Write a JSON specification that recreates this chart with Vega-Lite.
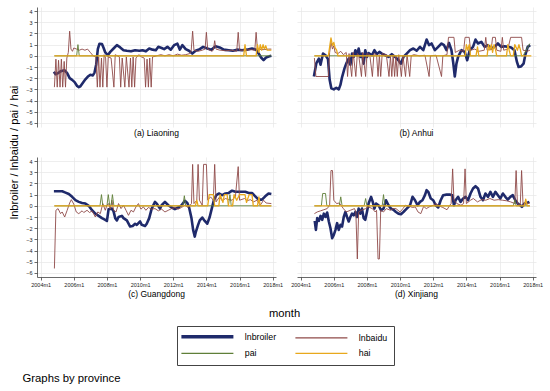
{
"$schema": "https://vega.github.io/schema/vega-lite/v6.json",
"padding": {"left": 8, "top": 7, "right": 5, "bottom": 5},
"background": "white",
"data": {"values": [
{"p":"L","s":"b","t":2004.8,"v":-1.42},{"p":"L","s":"b","t":2004.9,"v":-1.65},{"p":"L","s":"b","t":2005.05,"v":-1.55},{"p":"L","s":"b","t":2005.25,"v":-1.35},{"p":"L","s":"b","t":2005.45,"v":-1.3},{"p":"L","s":"b","t":2005.6,"v":-1.55},{"p":"L","s":"b","t":2005.75,"v":-2.0},{"p":"L","s":"b","t":2005.9,"v":-2.15},{"p":"L","s":"b","t":2006.05,"v":-2.35},{"p":"L","s":"b","t":2006.2,"v":-2.7},{"p":"L","s":"b","t":2006.3,"v":-2.8},{"p":"L","s":"b","t":2006.4,"v":-2.72},{"p":"L","s":"b","t":2006.55,"v":-2.4},{"p":"L","s":"b","t":2006.7,"v":-2.1},{"p":"L","s":"b","t":2006.85,"v":-1.85},{"p":"L","s":"b","t":2007.0,"v":-1.7},{"p":"L","s":"b","t":2007.15,"v":-1.75},{"p":"L","s":"b","t":2007.25,"v":-1.5},{"p":"L","s":"b","t":2007.35,"v":-0.8},{"p":"L","s":"b","t":2007.45,"v":0.6},{"p":"L","s":"b","t":2007.55,"v":1.08},{"p":"L","s":"b","t":2007.7,"v":1.05},{"p":"L","s":"b","t":2007.8,"v":0.7},{"p":"L","s":"b","t":2007.9,"v":0.3},{"p":"L","s":"b","t":2008.05,"v":0.05},{"p":"L","s":"b","t":2008.2,"v":0.35},{"p":"L","s":"b","t":2008.4,"v":0.65},{"p":"L","s":"b","t":2008.6,"v":0.95},{"p":"L","s":"b","t":2008.8,"v":0.75},{"p":"L","s":"b","t":2009.0,"v":0.5},{"p":"L","s":"b","t":2009.2,"v":0.45},{"p":"L","s":"b","t":2009.45,"v":0.4},{"p":"L","s":"b","t":2009.7,"v":0.5},{"p":"L","s":"b","t":2009.95,"v":0.45},{"p":"L","s":"b","t":2010.15,"v":0.5},{"p":"L","s":"b","t":2010.35,"v":0.4},{"p":"L","s":"b","t":2010.55,"v":0.65},{"p":"L","s":"b","t":2010.75,"v":0.55},{"p":"L","s":"b","t":2010.95,"v":0.5},{"p":"L","s":"b","t":2011.1,"v":0.8},{"p":"L","s":"b","t":2011.3,"v":0.7},{"p":"L","s":"b","t":2011.45,"v":0.6},{"p":"L","s":"b","t":2011.65,"v":0.8},{"p":"L","s":"b","t":2011.85,"v":0.55},{"p":"L","s":"b","t":2012.05,"v":0.95},{"p":"L","s":"b","t":2012.25,"v":1.08},{"p":"L","s":"b","t":2012.4,"v":0.55},{"p":"L","s":"b","t":2012.55,"v":0.95},{"p":"L","s":"b","t":2012.75,"v":0.6},{"p":"L","s":"b","t":2012.95,"v":0.45},{"p":"L","s":"b","t":2013.15,"v":0.2},{"p":"L","s":"b","t":2013.35,"v":0.45},{"p":"L","s":"b","t":2013.6,"v":0.6},{"p":"L","s":"b","t":2013.8,"v":0.8},{"p":"L","s":"b","t":2014.05,"v":0.65},{"p":"L","s":"b","t":2014.3,"v":0.55},{"p":"L","s":"b","t":2014.55,"v":0.85},{"p":"L","s":"b","t":2014.8,"v":0.75},{"p":"L","s":"b","t":2015.05,"v":0.55},{"p":"L","s":"b","t":2015.35,"v":0.5},{"p":"L","s":"b","t":2015.6,"v":0.45},{"p":"L","s":"b","t":2015.85,"v":0.55},{"p":"L","s":"b","t":2016.15,"v":0.5},{"p":"L","s":"b","t":2016.45,"v":0.55},{"p":"L","s":"b","t":2016.75,"v":0.65},{"p":"L","s":"b","t":2017.0,"v":0.55},{"p":"L","s":"b","t":2017.15,"v":0.2},{"p":"L","s":"b","t":2017.3,"v":-0.15},{"p":"L","s":"b","t":2017.45,"v":-0.38},{"p":"L","s":"b","t":2017.6,"v":-0.15},{"p":"L","s":"b","t":2017.8,"v":-0.05},{"p":"L","s":"b","t":2017.92,"v":0.0},
{"p":"L","s":"u","t":2004.83,"v":-2.8},{"p":"L","s":"u","t":2004.92,"v":-0.3},{"p":"L","s":"u","t":2005.0,"v":-2.8},{"p":"L","s":"u","t":2005.08,"v":-0.4},{"p":"L","s":"u","t":2005.17,"v":-2.8},{"p":"L","s":"u","t":2005.25,"v":-0.3},{"p":"L","s":"u","t":2005.33,"v":-2.8},{"p":"L","s":"u","t":2005.42,"v":-0.5},{"p":"L","s":"u","t":2005.5,"v":-2.8},{"p":"L","s":"u","t":2005.58,"v":-0.2},{"p":"L","s":"u","t":2005.67,"v":0.3},{"p":"L","s":"u","t":2005.75,"v":2.2},{"p":"L","s":"u","t":2005.83,"v":0.6},{"p":"L","s":"u","t":2005.92,"v":0.4},{"p":"L","s":"u","t":2006.0,"v":0.7},{"p":"L","s":"u","t":2006.17,"v":0.6},{"p":"L","s":"u","t":2006.33,"v":0.5},{"p":"L","s":"u","t":2006.5,"v":0.6},{"p":"L","s":"u","t":2006.67,"v":0.5},{"p":"L","s":"u","t":2006.83,"v":0.6},{"p":"L","s":"u","t":2007.0,"v":0.3},{"p":"L","s":"u","t":2007.17,"v":0.0},{"p":"L","s":"u","t":2007.33,"v":-0.1},{"p":"L","s":"u","t":2007.42,"v":-2.8},{"p":"L","s":"u","t":2007.5,"v":-0.1},{"p":"L","s":"u","t":2007.58,"v":-2.8},{"p":"L","s":"u","t":2007.67,"v":-0.2},{"p":"L","s":"u","t":2007.75,"v":-2.8},{"p":"L","s":"u","t":2007.83,"v":0.1},{"p":"L","s":"u","t":2007.92,"v":-0.2},{"p":"L","s":"u","t":2008.0,"v":-2.8},{"p":"L","s":"u","t":2008.08,"v":-0.1},{"p":"L","s":"u","t":2008.25,"v":-0.2},{"p":"L","s":"u","t":2008.42,"v":-2.8},{"p":"L","s":"u","t":2008.5,"v":0.1},{"p":"L","s":"u","t":2008.75,"v":-0.1},{"p":"L","s":"u","t":2008.83,"v":-2.8},{"p":"L","s":"u","t":2008.92,"v":-0.2},{"p":"L","s":"u","t":2009.08,"v":-2.8},{"p":"L","s":"u","t":2009.17,"v":-0.1},{"p":"L","s":"u","t":2009.33,"v":-2.8},{"p":"L","s":"u","t":2009.42,"v":-0.2},{"p":"L","s":"u","t":2009.5,"v":-2.8},{"p":"L","s":"u","t":2009.58,"v":-0.1},{"p":"L","s":"u","t":2009.67,"v":-2.8},{"p":"L","s":"u","t":2009.75,"v":-0.2},{"p":"L","s":"u","t":2009.92,"v":0.1},{"p":"L","s":"u","t":2010.08,"v":-0.1},{"p":"L","s":"u","t":2010.25,"v":-0.2},{"p":"L","s":"u","t":2010.33,"v":-2.8},{"p":"L","s":"u","t":2010.42,"v":-0.3},{"p":"L","s":"u","t":2010.5,"v":-2.8},{"p":"L","s":"u","t":2010.58,"v":-0.2},{"p":"L","s":"u","t":2010.67,"v":-2.8},{"p":"L","s":"u","t":2010.75,"v":-0.1},{"p":"L","s":"u","t":2011.0,"v":0.0},{"p":"L","s":"u","t":2011.25,"v":0.1},{"p":"L","s":"u","t":2011.5,"v":0.0},{"p":"L","s":"u","t":2011.75,"v":0.1},{"p":"L","s":"u","t":2012.0,"v":0.0},{"p":"L","s":"u","t":2012.25,"v":0.15},{"p":"L","s":"u","t":2012.5,"v":0.05},{"p":"L","s":"u","t":2012.75,"v":0.1},{"p":"L","s":"u","t":2013.0,"v":0.2},{"p":"L","s":"u","t":2013.08,"v":0.4},{"p":"L","s":"u","t":2013.17,"v":2.2},{"p":"L","s":"u","t":2013.25,"v":0.5},{"p":"L","s":"u","t":2013.5,"v":0.4},{"p":"L","s":"u","t":2013.75,"v":0.5},{"p":"L","s":"u","t":2013.92,"v":0.6},{"p":"L","s":"u","t":2014.0,"v":2.1},{"p":"L","s":"u","t":2014.08,"v":0.6},{"p":"L","s":"u","t":2014.33,"v":0.4},{"p":"L","s":"u","t":2014.42,"v":0.5},{"p":"L","s":"u","t":2014.5,"v":1.35},{"p":"L","s":"u","t":2014.58,"v":0.6},{"p":"L","s":"u","t":2014.83,"v":0.5},{"p":"L","s":"u","t":2015.17,"v":0.45},{"p":"L","s":"u","t":2015.5,"v":0.5},{"p":"L","s":"u","t":2015.83,"v":0.4},{"p":"L","s":"u","t":2015.92,"v":2.1},{"p":"L","s":"u","t":2016.0,"v":0.5},{"p":"L","s":"u","t":2016.33,"v":0.5},{"p":"L","s":"u","t":2016.67,"v":0.55},{"p":"L","s":"u","t":2016.92,"v":0.5},{"p":"L","s":"u","t":2017.0,"v":2.1},{"p":"L","s":"u","t":2017.08,"v":0.6},{"p":"L","s":"u","t":2017.42,"v":0.55},{"p":"L","s":"u","t":2017.75,"v":0.6},{"p":"L","s":"u","t":2017.92,"v":0.6},
{"p":"L","s":"p","t":2004.83,"v":0},{"p":"L","s":"p","t":2006.17,"v":0},{"p":"L","s":"p","t":2006.25,"v":1.0},{"p":"L","s":"p","t":2006.33,"v":0},{"p":"L","s":"p","t":2017.92,"v":0},
{"p":"L","s":"h","t":2004.83,"v":0},{"p":"L","s":"h","t":2016.25,"v":0},{"p":"L","s":"h","t":2016.33,"v":1.0},{"p":"L","s":"h","t":2016.42,"v":0},{"p":"L","s":"h","t":2017.0,"v":0},{"p":"L","s":"h","t":2017.08,"v":1.0},{"p":"L","s":"h","t":2017.17,"v":0.3},{"p":"L","s":"h","t":2017.25,"v":1.0},{"p":"L","s":"h","t":2017.33,"v":0.5},{"p":"L","s":"h","t":2017.42,"v":1.0},{"p":"L","s":"h","t":2017.5,"v":0.6},{"p":"L","s":"h","t":2017.58,"v":0.9},{"p":"L","s":"h","t":2017.67,"v":0.5},{"p":"L","s":"h","t":2017.92,"v":0.5},
{"p":"A","s":"b","t":2004.8,"v":-1.85},{"p":"A","s":"b","t":2004.95,"v":-0.65},{"p":"A","s":"b","t":2005.1,"v":-0.25},{"p":"A","s":"b","t":2005.2,"v":-0.8},{"p":"A","s":"b","t":2005.35,"v":0.2},{"p":"A","s":"b","t":2005.5,"v":0.05},{"p":"A","s":"b","t":2005.65,"v":-0.3},{"p":"A","s":"b","t":2005.75,"v":-2.15},{"p":"A","s":"b","t":2005.85,"v":-2.9},{"p":"A","s":"b","t":2006.0,"v":-3.0},{"p":"A","s":"b","t":2006.15,"v":-2.85},{"p":"A","s":"b","t":2006.3,"v":-3.0},{"p":"A","s":"b","t":2006.4,"v":-2.6},{"p":"A","s":"b","t":2006.5,"v":-1.9},{"p":"A","s":"b","t":2006.65,"v":-1.1},{"p":"A","s":"b","t":2006.75,"v":-0.7},{"p":"A","s":"b","t":2006.9,"v":-0.25},{"p":"A","s":"b","t":2007.0,"v":-0.8},{"p":"A","s":"b","t":2007.1,"v":0.2},{"p":"A","s":"b","t":2007.2,"v":-0.1},{"p":"A","s":"b","t":2007.3,"v":0.5},{"p":"A","s":"b","t":2007.4,"v":0.05},{"p":"A","s":"b","t":2007.5,"v":0.65},{"p":"A","s":"b","t":2007.6,"v":-0.1},{"p":"A","s":"b","t":2007.7,"v":0.2},{"p":"A","s":"b","t":2007.8,"v":-0.7},{"p":"A","s":"b","t":2007.9,"v":0.5},{"p":"A","s":"b","t":2008.0,"v":-0.1},{"p":"A","s":"b","t":2008.1,"v":0.25},{"p":"A","s":"b","t":2008.3,"v":0.05},{"p":"A","s":"b","t":2008.45,"v":0.5},{"p":"A","s":"b","t":2008.6,"v":0.15},{"p":"A","s":"b","t":2008.75,"v":0.35},{"p":"A","s":"b","t":2008.9,"v":0.2},{"p":"A","s":"b","t":2009.1,"v":0.05},{"p":"A","s":"b","t":2009.3,"v":-0.1},{"p":"A","s":"b","t":2009.5,"v":0.15},{"p":"A","s":"b","t":2009.7,"v":-0.1},{"p":"A","s":"b","t":2009.9,"v":-0.4},{"p":"A","s":"b","t":2010.05,"v":-0.7},{"p":"A","s":"b","t":2010.2,"v":-0.1},{"p":"A","s":"b","t":2010.4,"v":0.2},{"p":"A","s":"b","t":2010.6,"v":0.5},{"p":"A","s":"b","t":2010.8,"v":0.65},{"p":"A","s":"b","t":2011.0,"v":0.45},{"p":"A","s":"b","t":2011.2,"v":0.8},{"p":"A","s":"b","t":2011.4,"v":0.5},{"p":"A","s":"b","t":2011.6,"v":1.45},{"p":"A","s":"b","t":2011.75,"v":0.95},{"p":"A","s":"b","t":2011.9,"v":1.1},{"p":"A","s":"b","t":2012.1,"v":0.5},{"p":"A","s":"b","t":2012.3,"v":0.8},{"p":"A","s":"b","t":2012.5,"v":1.1},{"p":"A","s":"b","t":2012.65,"v":0.95},{"p":"A","s":"b","t":2012.8,"v":0.5},{"p":"A","s":"b","t":2012.95,"v":1.15},{"p":"A","s":"b","t":2013.1,"v":0.5},{"p":"A","s":"b","t":2013.2,"v":-0.55},{"p":"A","s":"b","t":2013.3,"v":-1.85},{"p":"A","s":"b","t":2013.4,"v":-0.7},{"p":"A","s":"b","t":2013.5,"v":-0.1},{"p":"A","s":"b","t":2013.7,"v":0.5},{"p":"A","s":"b","t":2013.9,"v":0.35},{"p":"A","s":"b","t":2014.05,"v":-0.4},{"p":"A","s":"b","t":2014.2,"v":0.5},{"p":"A","s":"b","t":2014.4,"v":0.8},{"p":"A","s":"b","t":2014.55,"v":1.45},{"p":"A","s":"b","t":2014.7,"v":1.1},{"p":"A","s":"b","t":2014.9,"v":1.25},{"p":"A","s":"b","t":2015.1,"v":0.8},{"p":"A","s":"b","t":2015.3,"v":0.95},{"p":"A","s":"b","t":2015.5,"v":0.65},{"p":"A","s":"b","t":2015.7,"v":0.8},{"p":"A","s":"b","t":2015.9,"v":1.1},{"p":"A","s":"b","t":2016.1,"v":0.8},{"p":"A","s":"b","t":2016.3,"v":0.85},{"p":"A","s":"b","t":2016.5,"v":0.8},{"p":"A","s":"b","t":2016.7,"v":0.75},{"p":"A","s":"b","t":2016.9,"v":0.5},{"p":"A","s":"b","t":2017.05,"v":-0.55},{"p":"A","s":"b","t":2017.15,"v":-1.0},{"p":"A","s":"b","t":2017.3,"v":-0.95},{"p":"A","s":"b","t":2017.45,"v":-0.7},{"p":"A","s":"b","t":2017.55,"v":0.05},{"p":"A","s":"b","t":2017.7,"v":0.8},{"p":"A","s":"b","t":2017.85,"v":0.95},
{"p":"A","s":"u","t":2004.83,"v":-0.2},{"p":"A","s":"u","t":2004.92,"v":-1.85},{"p":"A","s":"u","t":2005.67,"v":-1.85},{"p":"A","s":"u","t":2005.75,"v":0.3},{"p":"A","s":"u","t":2005.83,"v":1.2},{"p":"A","s":"u","t":2005.92,"v":0.6},{"p":"A","s":"u","t":2006.0,"v":0.9},{"p":"A","s":"u","t":2006.08,"v":0.3},{"p":"A","s":"u","t":2006.25,"v":0.2},{"p":"A","s":"u","t":2006.42,"v":0.4},{"p":"A","s":"u","t":2006.58,"v":0.1},{"p":"A","s":"u","t":2006.75,"v":0.3},{"p":"A","s":"u","t":2006.83,"v":-1.85},{"p":"A","s":"u","t":2006.92,"v":0.2},{"p":"A","s":"u","t":2007.08,"v":-1.85},{"p":"A","s":"u","t":2007.17,"v":0.3},{"p":"A","s":"u","t":2007.33,"v":-1.85},{"p":"A","s":"u","t":2007.42,"v":0.2},{"p":"A","s":"u","t":2007.5,"v":0.1},{"p":"A","s":"u","t":2007.67,"v":-1.85},{"p":"A","s":"u","t":2007.75,"v":0.3},{"p":"A","s":"u","t":2007.92,"v":-1.85},{"p":"A","s":"u","t":2008.0,"v":0.2},{"p":"A","s":"u","t":2008.17,"v":0.1},{"p":"A","s":"u","t":2008.33,"v":-1.85},{"p":"A","s":"u","t":2008.42,"v":0.2},{"p":"A","s":"u","t":2008.58,"v":0.1},{"p":"A","s":"u","t":2008.67,"v":-1.85},{"p":"A","s":"u","t":2008.75,"v":0.1},{"p":"A","s":"u","t":2008.83,"v":-1.85},{"p":"A","s":"u","t":2008.92,"v":0.2},{"p":"A","s":"u","t":2009.17,"v":0.1},{"p":"A","s":"u","t":2009.33,"v":-1.85},{"p":"A","s":"u","t":2009.42,"v":0.0},{"p":"A","s":"u","t":2009.5,"v":-1.85},{"p":"A","s":"u","t":2009.58,"v":0.1},{"p":"A","s":"u","t":2009.67,"v":-1.85},{"p":"A","s":"u","t":2009.75,"v":0.0},{"p":"A","s":"u","t":2009.83,"v":-1.85},{"p":"A","s":"u","t":2009.92,"v":0.1},{"p":"A","s":"u","t":2010.08,"v":-1.85},{"p":"A","s":"u","t":2010.17,"v":0.0},{"p":"A","s":"u","t":2010.33,"v":-1.85},{"p":"A","s":"u","t":2010.42,"v":0.1},{"p":"A","s":"u","t":2010.58,"v":-1.85},{"p":"A","s":"u","t":2010.67,"v":0.0},{"p":"A","s":"u","t":2010.83,"v":0.1},{"p":"A","s":"u","t":2011.17,"v":0.0},{"p":"A","s":"u","t":2011.5,"v":0.05},{"p":"A","s":"u","t":2011.75,"v":-1.85},{"p":"A","s":"u","t":2011.83,"v":0.0},{"p":"A","s":"u","t":2012.17,"v":0.05},{"p":"A","s":"u","t":2012.5,"v":-1.85},{"p":"A","s":"u","t":2012.58,"v":0.0},{"p":"A","s":"u","t":2012.83,"v":0.1},{"p":"A","s":"u","t":2012.92,"v":1.65},{"p":"A","s":"u","t":2013.25,"v":1.65},{"p":"A","s":"u","t":2013.33,"v":0.3},{"p":"A","s":"u","t":2013.58,"v":0.5},{"p":"A","s":"u","t":2013.83,"v":0.4},{"p":"A","s":"u","t":2013.92,"v":1.65},{"p":"A","s":"u","t":2014.17,"v":1.65},{"p":"A","s":"u","t":2014.25,"v":0.5},{"p":"A","s":"u","t":2014.5,"v":0.6},{"p":"A","s":"u","t":2014.75,"v":0.4},{"p":"A","s":"u","t":2015.08,"v":0.5},{"p":"A","s":"u","t":2015.17,"v":1.65},{"p":"A","s":"u","t":2015.25,"v":0.5},{"p":"A","s":"u","t":2015.5,"v":0.6},{"p":"A","s":"u","t":2015.58,"v":1.65},{"p":"A","s":"u","t":2015.75,"v":1.65},{"p":"A","s":"u","t":2015.83,"v":0.5},{"p":"A","s":"u","t":2016.08,"v":0.4},{"p":"A","s":"u","t":2016.17,"v":1.65},{"p":"A","s":"u","t":2016.25,"v":0.5},{"p":"A","s":"u","t":2016.5,"v":0.6},{"p":"A","s":"u","t":2016.67,"v":1.65},{"p":"A","s":"u","t":2017.33,"v":1.65},{"p":"A","s":"u","t":2017.42,"v":0.5},{"p":"A","s":"u","t":2017.67,"v":0.4},{"p":"A","s":"u","t":2017.83,"v":0.5},
{"p":"A","s":"p","t":2004.83,"v":0},{"p":"A","s":"p","t":2017.42,"v":0},{"p":"A","s":"p","t":2017.83,"v":1.1},
{"p":"A","s":"h","t":2004.83,"v":0},{"p":"A","s":"h","t":2005.67,"v":0},{"p":"A","s":"h","t":2005.75,"v":0.8},{"p":"A","s":"h","t":2005.83,"v":1.6},{"p":"A","s":"h","t":2005.92,"v":0.9},{"p":"A","s":"h","t":2006.0,"v":1.2},{"p":"A","s":"h","t":2006.08,"v":0.7},{"p":"A","s":"h","t":2006.17,"v":0.5},{"p":"A","s":"h","t":2006.25,"v":0},{"p":"A","s":"h","t":2013.92,"v":0},{"p":"A","s":"h","t":2014.0,"v":1.0},{"p":"A","s":"h","t":2014.08,"v":0.5},{"p":"A","s":"h","t":2014.17,"v":1.0},{"p":"A","s":"h","t":2014.25,"v":0},{"p":"A","s":"h","t":2014.58,"v":0},{"p":"A","s":"h","t":2014.67,"v":0.8},{"p":"A","s":"h","t":2014.75,"v":0},{"p":"A","s":"h","t":2015.25,"v":0},{"p":"A","s":"h","t":2015.33,"v":1.0},{"p":"A","s":"h","t":2015.42,"v":0.5},{"p":"A","s":"h","t":2015.5,"v":1.0},{"p":"A","s":"h","t":2015.58,"v":0.3},{"p":"A","s":"h","t":2015.67,"v":1.0},{"p":"A","s":"h","t":2015.75,"v":0.6},{"p":"A","s":"h","t":2015.83,"v":0},{"p":"A","s":"h","t":2016.42,"v":0},{"p":"A","s":"h","t":2016.5,"v":1.0},{"p":"A","s":"h","t":2016.58,"v":0.5},{"p":"A","s":"h","t":2016.67,"v":0},{"p":"A","s":"h","t":2016.83,"v":0},{"p":"A","s":"h","t":2016.92,"v":1.0},{"p":"A","s":"h","t":2017.08,"v":0.5},{"p":"A","s":"h","t":2017.17,"v":1.0},{"p":"A","s":"h","t":2017.25,"v":0.6},{"p":"A","s":"h","t":2017.33,"v":0},{"p":"A","s":"h","t":2017.92,"v":0},
{"p":"G","s":"b","t":2004.8,"v":1.3},{"p":"G","s":"b","t":2005.0,"v":1.3},{"p":"G","s":"b","t":2005.3,"v":1.3},{"p":"G","s":"b","t":2005.5,"v":1.18},{"p":"G","s":"b","t":2005.7,"v":1.05},{"p":"G","s":"b","t":2005.9,"v":0.8},{"p":"G","s":"b","t":2006.1,"v":0.5},{"p":"G","s":"b","t":2006.3,"v":0.35},{"p":"G","s":"b","t":2006.5,"v":0.25},{"p":"G","s":"b","t":2006.7,"v":0.2},{"p":"G","s":"b","t":2006.9,"v":0.0},{"p":"G","s":"b","t":2007.1,"v":-0.4},{"p":"G","s":"b","t":2007.3,"v":-0.7},{"p":"G","s":"b","t":2007.5,"v":-0.9},{"p":"G","s":"b","t":2007.7,"v":-1.1},{"p":"G","s":"b","t":2007.9,"v":-1.25},{"p":"G","s":"b","t":2008.0,"v":-1.35},{"p":"G","s":"b","t":2008.1,"v":-0.3},{"p":"G","s":"b","t":2008.3,"v":-0.25},{"p":"G","s":"b","t":2008.4,"v":-0.5},{"p":"G","s":"b","t":2008.5,"v":-1.1},{"p":"G","s":"b","t":2008.6,"v":-1.3},{"p":"G","s":"b","t":2008.7,"v":-1.0},{"p":"G","s":"b","t":2008.9,"v":-0.9},{"p":"G","s":"b","t":2009.0,"v":-1.1},{"p":"G","s":"b","t":2009.2,"v":-1.3},{"p":"G","s":"b","t":2009.4,"v":-1.85},{"p":"G","s":"b","t":2009.55,"v":-1.8},{"p":"G","s":"b","t":2009.7,"v":-1.6},{"p":"G","s":"b","t":2009.8,"v":-1.7},{"p":"G","s":"b","t":2010.0,"v":-1.4},{"p":"G","s":"b","t":2010.1,"v":-1.7},{"p":"G","s":"b","t":2010.3,"v":-1.8},{"p":"G","s":"b","t":2010.4,"v":-1.6},{"p":"G","s":"b","t":2010.55,"v":-1.1},{"p":"G","s":"b","t":2010.7,"v":-0.25},{"p":"G","s":"b","t":2010.9,"v":0.35},{"p":"G","s":"b","t":2011.0,"v":0.2},{"p":"G","s":"b","t":2011.2,"v":-0.25},{"p":"G","s":"b","t":2011.3,"v":0.05},{"p":"G","s":"b","t":2011.5,"v":0.35},{"p":"G","s":"b","t":2011.7,"v":0.05},{"p":"G","s":"b","t":2011.9,"v":-0.15},{"p":"G","s":"b","t":2012.1,"v":-0.3},{"p":"G","s":"b","t":2012.3,"v":-0.15},{"p":"G","s":"b","t":2012.5,"v":0.05},{"p":"G","s":"b","t":2012.7,"v":0.45},{"p":"G","s":"b","t":2012.85,"v":0.25},{"p":"G","s":"b","t":2012.95,"v":-0.1},{"p":"G","s":"b","t":2013.1,"v":-1.1},{"p":"G","s":"b","t":2013.2,"v":-2.15},{"p":"G","s":"b","t":2013.3,"v":-2.75},{"p":"G","s":"b","t":2013.35,"v":-2.4},{"p":"G","s":"b","t":2013.5,"v":-1.7},{"p":"G","s":"b","t":2013.6,"v":-1.3},{"p":"G","s":"b","t":2013.75,"v":-1.05},{"p":"G","s":"b","t":2013.9,"v":-1.35},{"p":"G","s":"b","t":2014.05,"v":-1.6},{"p":"G","s":"b","t":2014.2,"v":-1.0},{"p":"G","s":"b","t":2014.35,"v":-0.1},{"p":"G","s":"b","t":2014.45,"v":0.5},{"p":"G","s":"b","t":2014.6,"v":0.95},{"p":"G","s":"b","t":2014.75,"v":1.1},{"p":"G","s":"b","t":2014.95,"v":0.95},{"p":"G","s":"b","t":2015.15,"v":1.1},{"p":"G","s":"b","t":2015.35,"v":1.15},{"p":"G","s":"b","t":2015.55,"v":1.35},{"p":"G","s":"b","t":2015.75,"v":1.25},{"p":"G","s":"b","t":2016.05,"v":1.25},{"p":"G","s":"b","t":2016.35,"v":1.25},{"p":"G","s":"b","t":2016.55,"v":1.15},{"p":"G","s":"b","t":2016.75,"v":1.15},{"p":"G","s":"b","t":2016.95,"v":0.85},{"p":"G","s":"b","t":2017.15,"v":0.55},{"p":"G","s":"b","t":2017.35,"v":0.55},{"p":"G","s":"b","t":2017.55,"v":0.85},{"p":"G","s":"b","t":2017.75,"v":1.1},{"p":"G","s":"b","t":2017.92,"v":1.05},
{"p":"G","s":"u","t":2004.83,"v":-5.6},{"p":"G","s":"u","t":2004.92,"v":-0.4},{"p":"G","s":"u","t":2005.05,"v":-0.25},{"p":"G","s":"u","t":2005.2,"v":-0.7},{"p":"G","s":"u","t":2005.3,"v":-0.55},{"p":"G","s":"u","t":2005.45,"v":-1.0},{"p":"G","s":"u","t":2005.6,"v":-0.4},{"p":"G","s":"u","t":2005.75,"v":0.25},{"p":"G","s":"u","t":2005.85,"v":0.55},{"p":"G","s":"u","t":2006.0,"v":0.15},{"p":"G","s":"u","t":2006.15,"v":-0.55},{"p":"G","s":"u","t":2006.3,"v":-0.7},{"p":"G","s":"u","t":2006.5,"v":-0.45},{"p":"G","s":"u","t":2006.6,"v":-0.6},{"p":"G","s":"u","t":2006.8,"v":-0.4},{"p":"G","s":"u","t":2006.95,"v":-0.6},{"p":"G","s":"u","t":2007.1,"v":-0.45},{"p":"G","s":"u","t":2007.3,"v":-1.0},{"p":"G","s":"u","t":2007.45,"v":-0.55},{"p":"G","s":"u","t":2007.6,"v":-0.7},{"p":"G","s":"u","t":2007.75,"v":0.2},{"p":"G","s":"u","t":2007.9,"v":-0.4},{"p":"G","s":"u","t":2008.0,"v":0.05},{"p":"G","s":"u","t":2008.1,"v":0.2},{"p":"G","s":"u","t":2008.2,"v":-0.3},{"p":"G","s":"u","t":2008.3,"v":0.5},{"p":"G","s":"u","t":2008.4,"v":-0.4},{"p":"G","s":"u","t":2008.55,"v":-0.55},{"p":"G","s":"u","t":2008.7,"v":0.2},{"p":"G","s":"u","t":2008.85,"v":-0.25},{"p":"G","s":"u","t":2009.0,"v":0.05},{"p":"G","s":"u","t":2009.15,"v":-0.4},{"p":"G","s":"u","t":2009.3,"v":-0.85},{"p":"G","s":"u","t":2009.45,"v":-0.4},{"p":"G","s":"u","t":2009.6,"v":-0.55},{"p":"G","s":"u","t":2009.75,"v":-0.1},{"p":"G","s":"u","t":2009.9,"v":0.2},{"p":"G","s":"u","t":2010.05,"v":-0.3},{"p":"G","s":"u","t":2010.2,"v":-0.1},{"p":"G","s":"u","t":2010.35,"v":-0.4},{"p":"G","s":"u","t":2010.5,"v":-0.15},{"p":"G","s":"u","t":2010.7,"v":-0.3},{"p":"G","s":"u","t":2010.9,"v":-0.25},{"p":"G","s":"u","t":2011.1,"v":-0.45},{"p":"G","s":"u","t":2011.3,"v":-0.3},{"p":"G","s":"u","t":2011.5,"v":-0.55},{"p":"G","s":"u","t":2011.7,"v":-0.4},{"p":"G","s":"u","t":2011.9,"v":-0.25},{"p":"G","s":"u","t":2012.1,"v":-0.15},{"p":"G","s":"u","t":2012.3,"v":-0.3},{"p":"G","s":"u","t":2012.5,"v":-0.15},{"p":"G","s":"u","t":2012.7,"v":0.05},{"p":"G","s":"u","t":2012.9,"v":-0.15},{"p":"G","s":"u","t":2013.1,"v":0.2},{"p":"G","s":"u","t":2013.17,"v":3.7},{"p":"G","s":"u","t":2013.25,"v":0.2},{"p":"G","s":"u","t":2013.42,"v":0.5},{"p":"G","s":"u","t":2013.5,"v":3.7},{"p":"G","s":"u","t":2013.58,"v":0.5},{"p":"G","s":"u","t":2013.75,"v":0.05},{"p":"G","s":"u","t":2013.83,"v":3.7},{"p":"G","s":"u","t":2014.0,"v":3.7},{"p":"G","s":"u","t":2014.08,"v":0.5},{"p":"G","s":"u","t":2014.25,"v":0.8},{"p":"G","s":"u","t":2014.42,"v":0.5},{"p":"G","s":"u","t":2014.5,"v":3.7},{"p":"G","s":"u","t":2014.58,"v":0.35},{"p":"G","s":"u","t":2014.8,"v":0.8},{"p":"G","s":"u","t":2014.95,"v":0.45},{"p":"G","s":"u","t":2015.15,"v":0.65},{"p":"G","s":"u","t":2015.35,"v":0.55},{"p":"G","s":"u","t":2015.55,"v":0.5},{"p":"G","s":"u","t":2015.75,"v":0.8},{"p":"G","s":"u","t":2015.92,"v":3.5},{"p":"G","s":"u","t":2016.0,"v":0.5},{"p":"G","s":"u","t":2016.3,"v":0.65},{"p":"G","s":"u","t":2016.45,"v":0.45},{"p":"G","s":"u","t":2016.65,"v":0.55},{"p":"G","s":"u","t":2016.85,"v":0.35},{"p":"G","s":"u","t":2017.05,"v":0.5},{"p":"G","s":"u","t":2017.25,"v":0.05},{"p":"G","s":"u","t":2017.45,"v":0.5},{"p":"G","s":"u","t":2017.6,"v":0.25},{"p":"G","s":"u","t":2017.92,"v":0.2},
{"p":"G","s":"p","t":2004.83,"v":0},{"p":"G","s":"p","t":2007.58,"v":0},{"p":"G","s":"p","t":2007.67,"v":1.0},{"p":"G","s":"p","t":2007.75,"v":0},{"p":"G","s":"p","t":2008.0,"v":0},{"p":"G","s":"p","t":2008.08,"v":1.0},{"p":"G","s":"p","t":2008.17,"v":0},{"p":"G","s":"p","t":2008.25,"v":0},{"p":"G","s":"p","t":2008.33,"v":1.0},{"p":"G","s":"p","t":2008.42,"v":0},{"p":"G","s":"p","t":2012.58,"v":0},{"p":"G","s":"p","t":2012.67,"v":0.9},{"p":"G","s":"p","t":2012.75,"v":0},{"p":"G","s":"p","t":2015.33,"v":0},{"p":"G","s":"p","t":2015.42,"v":1.0},{"p":"G","s":"p","t":2015.5,"v":0},{"p":"G","s":"p","t":2017.92,"v":0},
{"p":"G","s":"h","t":2004.83,"v":0},{"p":"G","s":"h","t":2013.33,"v":0},{"p":"G","s":"h","t":2013.42,"v":0.5},{"p":"G","s":"h","t":2013.5,"v":0},{"p":"G","s":"h","t":2014.08,"v":0},{"p":"G","s":"h","t":2014.17,"v":1.0},{"p":"G","s":"h","t":2014.42,"v":1.0},{"p":"G","s":"h","t":2014.5,"v":0},{"p":"G","s":"h","t":2014.75,"v":0},{"p":"G","s":"h","t":2014.83,"v":1.0},{"p":"G","s":"h","t":2015.0,"v":0.3},{"p":"G","s":"h","t":2015.08,"v":1.0},{"p":"G","s":"h","t":2015.25,"v":1.0},{"p":"G","s":"h","t":2015.33,"v":0},{"p":"G","s":"h","t":2015.58,"v":0},{"p":"G","s":"h","t":2015.67,"v":1.0},{"p":"G","s":"h","t":2015.83,"v":0.5},{"p":"G","s":"h","t":2016.0,"v":1.0},{"p":"G","s":"h","t":2016.33,"v":1.0},{"p":"G","s":"h","t":2016.42,"v":0.3},{"p":"G","s":"h","t":2016.58,"v":1.0},{"p":"G","s":"h","t":2016.75,"v":1.0},{"p":"G","s":"h","t":2016.83,"v":0},{"p":"G","s":"h","t":2017.08,"v":0},{"p":"G","s":"h","t":2017.17,"v":0.8},{"p":"G","s":"h","t":2017.25,"v":0},{"p":"G","s":"h","t":2017.92,"v":0},
{"p":"X","s":"b","t":2004.85,"v":-1.35},{"p":"X","s":"b","t":2004.92,"v":-2.15},{"p":"X","s":"b","t":2005.0,"v":-1.1},{"p":"X","s":"b","t":2005.1,"v":-1.35},{"p":"X","s":"b","t":2005.2,"v":-0.9},{"p":"X","s":"b","t":2005.3,"v":-1.25},{"p":"X","s":"b","t":2005.4,"v":-0.7},{"p":"X","s":"b","t":2005.5,"v":-1.0},{"p":"X","s":"b","t":2005.6,"v":-0.6},{"p":"X","s":"b","t":2005.7,"v":-1.4},{"p":"X","s":"b","t":2005.8,"v":-2.0},{"p":"X","s":"b","t":2005.9,"v":-2.9},{"p":"X","s":"b","t":2006.0,"v":-2.6},{"p":"X","s":"b","t":2006.1,"v":-2.15},{"p":"X","s":"b","t":2006.2,"v":-1.55},{"p":"X","s":"b","t":2006.3,"v":-2.15},{"p":"X","s":"b","t":2006.4,"v":-1.7},{"p":"X","s":"b","t":2006.5,"v":-1.85},{"p":"X","s":"b","t":2006.6,"v":-1.0},{"p":"X","s":"b","t":2006.7,"v":-0.55},{"p":"X","s":"b","t":2006.8,"v":-1.0},{"p":"X","s":"b","t":2006.9,"v":-1.4},{"p":"X","s":"b","t":2007.0,"v":-1.0},{"p":"X","s":"b","t":2007.1,"v":-0.7},{"p":"X","s":"b","t":2007.2,"v":-0.85},{"p":"X","s":"b","t":2007.3,"v":-0.55},{"p":"X","s":"b","t":2007.4,"v":-1.0},{"p":"X","s":"b","t":2007.5,"v":-0.25},{"p":"X","s":"b","t":2007.6,"v":-0.7},{"p":"X","s":"b","t":2007.7,"v":-0.25},{"p":"X","s":"b","t":2007.8,"v":-1.1},{"p":"X","s":"b","t":2007.9,"v":-1.25},{"p":"X","s":"b","t":2008.0,"v":-0.55},{"p":"X","s":"b","t":2008.1,"v":0.2},{"p":"X","s":"b","t":2008.25,"v":0.8},{"p":"X","s":"b","t":2008.35,"v":0.35},{"p":"X","s":"b","t":2008.45,"v":-0.25},{"p":"X","s":"b","t":2008.55,"v":0.2},{"p":"X","s":"b","t":2008.7,"v":0.05},{"p":"X","s":"b","t":2008.85,"v":-0.4},{"p":"X","s":"b","t":2009.0,"v":-0.25},{"p":"X","s":"b","t":2009.15,"v":0.5},{"p":"X","s":"b","t":2009.3,"v":0.05},{"p":"X","s":"b","t":2009.45,"v":-0.25},{"p":"X","s":"b","t":2009.6,"v":-0.35},{"p":"X","s":"b","t":2009.75,"v":-0.55},{"p":"X","s":"b","t":2009.9,"v":-0.7},{"p":"X","s":"b","t":2010.05,"v":-0.75},{"p":"X","s":"b","t":2010.2,"v":-0.55},{"p":"X","s":"b","t":2010.4,"v":-0.25},{"p":"X","s":"b","t":2010.6,"v":0.05},{"p":"X","s":"b","t":2010.75,"v":0.8},{"p":"X","s":"b","t":2010.9,"v":0.5},{"p":"X","s":"b","t":2011.05,"v":0.05},{"p":"X","s":"b","t":2011.2,"v":0.35},{"p":"X","s":"b","t":2011.35,"v":0.5},{"p":"X","s":"b","t":2011.5,"v":0.95},{"p":"X","s":"b","t":2011.6,"v":1.4},{"p":"X","s":"b","t":2011.7,"v":1.25},{"p":"X","s":"b","t":2011.85,"v":0.65},{"p":"X","s":"b","t":2012.0,"v":0.5},{"p":"X","s":"b","t":2012.15,"v":0.05},{"p":"X","s":"b","t":2012.3,"v":-0.15},{"p":"X","s":"b","t":2012.45,"v":0.5},{"p":"X","s":"b","t":2012.6,"v":0.95},{"p":"X","s":"b","t":2012.8,"v":1.0},{"p":"X","s":"b","t":2013.0,"v":1.0},{"p":"X","s":"b","t":2013.15,"v":0.95},{"p":"X","s":"b","t":2013.25,"v":0.05},{"p":"X","s":"b","t":2013.35,"v":0.5},{"p":"X","s":"b","t":2013.5,"v":0.8},{"p":"X","s":"b","t":2013.65,"v":0.35},{"p":"X","s":"b","t":2013.8,"v":0.65},{"p":"X","s":"b","t":2013.95,"v":0.8},{"p":"X","s":"b","t":2014.1,"v":0.5},{"p":"X","s":"b","t":2014.25,"v":1.1},{"p":"X","s":"b","t":2014.4,"v":1.55},{"p":"X","s":"b","t":2014.55,"v":1.75},{"p":"X","s":"b","t":2014.7,"v":1.55},{"p":"X","s":"b","t":2014.85,"v":0.8},{"p":"X","s":"b","t":2015.0,"v":0.5},{"p":"X","s":"b","t":2015.15,"v":1.1},{"p":"X","s":"b","t":2015.3,"v":0.8},{"p":"X","s":"b","t":2015.45,"v":1.25},{"p":"X","s":"b","t":2015.6,"v":0.8},{"p":"X","s":"b","t":2015.75,"v":1.25},{"p":"X","s":"b","t":2015.9,"v":0.95},{"p":"X","s":"b","t":2016.05,"v":0.65},{"p":"X","s":"b","t":2016.2,"v":1.1},{"p":"X","s":"b","t":2016.35,"v":0.8},{"p":"X","s":"b","t":2016.5,"v":0.55},{"p":"X","s":"b","t":2016.65,"v":0.8},{"p":"X","s":"b","t":2016.8,"v":0.95},{"p":"X","s":"b","t":2016.95,"v":0.5},{"p":"X","s":"b","t":2017.1,"v":0.2},{"p":"X","s":"b","t":2017.25,"v":0.05},{"p":"X","s":"b","t":2017.35,"v":-0.1},{"p":"X","s":"b","t":2017.5,"v":0.2},{"p":"X","s":"b","t":2017.65,"v":0.25},{"p":"X","s":"b","t":2017.8,"v":0.35},
{"p":"X","s":"u","t":2004.83,"v":-0.7},{"p":"X","s":"u","t":2005.0,"v":-0.55},{"p":"X","s":"u","t":2005.2,"v":-0.45},{"p":"X","s":"u","t":2005.4,"v":-0.35},{"p":"X","s":"u","t":2005.6,"v":-0.25},{"p":"X","s":"u","t":2005.75,"v":0.05},{"p":"X","s":"u","t":2005.83,"v":3.15},{"p":"X","s":"u","t":2005.92,"v":3.15},{"p":"X","s":"u","t":2006.0,"v":0.5},{"p":"X","s":"u","t":2006.17,"v":0.2},{"p":"X","s":"u","t":2006.33,"v":0.25},{"p":"X","s":"u","t":2006.58,"v":-0.25},{"p":"X","s":"u","t":2006.75,"v":-0.55},{"p":"X","s":"u","t":2007.0,"v":-0.4},{"p":"X","s":"u","t":2007.25,"v":-0.25},{"p":"X","s":"u","t":2007.33,"v":-0.55},{"p":"X","s":"u","t":2007.42,"v":-4.75},{"p":"X","s":"u","t":2007.5,"v":-0.55},{"p":"X","s":"u","t":2007.67,"v":-0.4},{"p":"X","s":"u","t":2007.92,"v":-0.25},{"p":"X","s":"u","t":2008.08,"v":-0.1},{"p":"X","s":"u","t":2008.33,"v":-0.25},{"p":"X","s":"u","t":2008.5,"v":-0.55},{"p":"X","s":"u","t":2008.58,"v":-0.4},{"p":"X","s":"u","t":2008.67,"v":-4.75},{"p":"X","s":"u","t":2008.75,"v":-4.75},{"p":"X","s":"u","t":2008.83,"v":-0.4},{"p":"X","s":"u","t":2009.0,"v":-0.55},{"p":"X","s":"u","t":2009.17,"v":-0.25},{"p":"X","s":"u","t":2009.42,"v":-0.4},{"p":"X","s":"u","t":2009.58,"v":-0.25},{"p":"X","s":"u","t":2009.75,"v":-0.25},{"p":"X","s":"u","t":2010.0,"v":-0.55},{"p":"X","s":"u","t":2010.17,"v":-0.25},{"p":"X","s":"u","t":2010.33,"v":0.05},{"p":"X","s":"u","t":2010.58,"v":-0.05},{"p":"X","s":"u","t":2010.75,"v":-0.15},{"p":"X","s":"u","t":2010.92,"v":-0.1},{"p":"X","s":"u","t":2011.08,"v":-0.55},{"p":"X","s":"u","t":2011.25,"v":-0.7},{"p":"X","s":"u","t":2011.42,"v":-0.05},{"p":"X","s":"u","t":2011.58,"v":-0.25},{"p":"X","s":"u","t":2011.75,"v":-0.1},{"p":"X","s":"u","t":2012.0,"v":0.05},{"p":"X","s":"u","t":2012.17,"v":0.2},{"p":"X","s":"u","t":2012.42,"v":-0.05},{"p":"X","s":"u","t":2012.58,"v":-0.15},{"p":"X","s":"u","t":2012.83,"v":-0.35},{"p":"X","s":"u","t":2013.0,"v":0.05},{"p":"X","s":"u","t":2013.08,"v":0.2},{"p":"X","s":"u","t":2013.17,"v":3.3},{"p":"X","s":"u","t":2013.25,"v":0.5},{"p":"X","s":"u","t":2013.42,"v":0.2},{"p":"X","s":"u","t":2013.67,"v":0.05},{"p":"X","s":"u","t":2013.83,"v":0.2},{"p":"X","s":"u","t":2013.92,"v":3.3},{"p":"X","s":"u","t":2014.0,"v":0.2},{"p":"X","s":"u","t":2014.25,"v":0.5},{"p":"X","s":"u","t":2014.42,"v":0.65},{"p":"X","s":"u","t":2014.67,"v":0.35},{"p":"X","s":"u","t":2014.92,"v":0.55},{"p":"X","s":"u","t":2015.17,"v":0.5},{"p":"X","s":"u","t":2015.42,"v":0.65},{"p":"X","s":"u","t":2015.67,"v":0.5},{"p":"X","s":"u","t":2015.92,"v":0.55},{"p":"X","s":"u","t":2016.17,"v":0.5},{"p":"X","s":"u","t":2016.42,"v":0.45},{"p":"X","s":"u","t":2016.67,"v":0.35},{"p":"X","s":"u","t":2016.92,"v":0.2},{"p":"X","s":"u","t":2017.0,"v":3.15},{"p":"X","s":"u","t":2017.08,"v":0.2},{"p":"X","s":"u","t":2017.25,"v":0.05},{"p":"X","s":"u","t":2017.33,"v":3.15},{"p":"X","s":"u","t":2017.42,"v":0.05},{"p":"X","s":"u","t":2017.58,"v":0.2},{"p":"X","s":"u","t":2017.83,"v":0.25},
{"p":"X","s":"p","t":2004.83,"v":0},{"p":"X","s":"p","t":2005.25,"v":0},{"p":"X","s":"p","t":2005.33,"v":1.1},{"p":"X","s":"p","t":2005.5,"v":1.1},{"p":"X","s":"p","t":2005.58,"v":0},{"p":"X","s":"p","t":2006.33,"v":0},{"p":"X","s":"p","t":2006.42,"v":0.8},{"p":"X","s":"p","t":2006.5,"v":0},{"p":"X","s":"p","t":2007.83,"v":0},{"p":"X","s":"p","t":2007.92,"v":0.65},{"p":"X","s":"p","t":2008.0,"v":0},{"p":"X","s":"p","t":2008.92,"v":0},{"p":"X","s":"p","t":2009.0,"v":1.0},{"p":"X","s":"p","t":2009.08,"v":0},{"p":"X","s":"p","t":2016.83,"v":0},{"p":"X","s":"p","t":2016.92,"v":0.5},{"p":"X","s":"p","t":2017.0,"v":0},{"p":"X","s":"p","t":2017.83,"v":0},
{"p":"X","s":"h","t":2004.83,"v":0},{"p":"X","s":"h","t":2017.5,"v":0},{"p":"X","s":"h","t":2017.58,"v":0.6},{"p":"X","s":"h","t":2017.67,"v":0},{"p":"X","s":"h","t":2017.83,"v":0}
]},
"title": {"text": "Graphs by province", "orient": "bottom", "anchor": "start", "fontSize": 11.3, "fontWeight": "normal", "font": "Liberation Sans", "color": "#000", "offset": 7, "dx": 14},
"vconcat": [
{
"title": {"text": "month", "orient": "bottom", "anchor": "middle", "fontSize": 11.2, "fontWeight": "normal", "font": "Liberation Sans", "color": "#000", "offset": 10, "dx": 9},
"vconcat": [
{
"title": {"text": "lnbroiler / lnbaidu / pai / hai", "orient": "left", "anchor": "middle", "fontSize": 11.2, "fontWeight": "normal", "font": "Liberation Sans", "color": "#000", "offset": 6},
"columns": 2,
"bounds": "flush",
"spacing": {"row": 30, "column": 21},
"concat": [
{
"width": 239, "height": 120,
"title": {"text": "(a) Liaoning", "orient": "bottom", "fontSize": 8.5, "fontWeight": "normal", "offset": 2},
"transform": [{"filter": "datum.p == 'L'"}],
"mark": {"type": "line", "strokeJoin": "round"},
"encoding": {
"x": {"field": "t", "type": "quantitative", "scale": {"domain": [2003.78, 2018.2], "nice": false, "zero": false}, "axis": {"values": [2004,2006,2008,2010,2012,2014,2016,2018], "labels": false, "ticks": false, "domain": false, "title": null}},
"y": {"field": "v", "type": "quantitative", "scale": {"domain": [-6.36, 4.36], "nice": false}, "axis": {"values": [-6,-5,-4,-3,-2,-1,0,1,2,3,4], "title": null}},
"color": {"field": "s", "type": "nominal", "scale": {"domain": ["b","u","p","h"], "range": ["#1f2a6b","#8f4a48","#5f7f38","#e8a81c"]}, "legend": {"orient": "none", "legendX": 140, "legendY": 319, "direction": "horizontal", "columns": 2, "title": null, "symbolType": "M-5.2,0H5.2", "symbolSize": 100, "symbolOffset": 20, "labelFontSize": 8.8, "labelFont": "Liberation Sans", "labelColor": "#000", "labelOffset": 33, "labelLimit": 33, "columnPadding": 16, "rowPadding": 5, "strokeColor": "#444", "padding": 6, "labelExpr": "datum.value == 'b' ? 'lnbroiler' : datum.value == 'u' ? 'lnbaidu' : datum.value == 'p' ? 'pai' : 'hai'", "encode": {"symbols": {"update": {"strokeWidth": {"signal": "datum.value == 'b' ? 3.5 : 1.2"}}}}}},
"strokeWidth": {"condition": [{"test": "datum.s == 'b'", "value": 2.6}, {"test": "datum.s == 'h'", "value": 1.3}], "value": 0.9}
}
},
{
"width": 239, "height": 120,
"title": {"text": "(b) Anhui", "orient": "bottom", "fontSize": 8.5, "fontWeight": "normal", "offset": 2},
"transform": [{"filter": "datum.p == 'A'"}],
"mark": {"type": "line", "strokeJoin": "round"},
"encoding": {
"x": {"field": "t", "type": "quantitative", "scale": {"domain": [2003.78, 2018.2], "nice": false, "zero": false}, "axis": {"values": [2004,2006,2008,2010,2012,2014,2016,2018], "labels": false, "ticks": false, "domain": false, "title": null}},
"y": {"field": "v", "type": "quantitative", "scale": {"domain": [-6.36, 4.36], "nice": false}, "axis": {"values": [-6,-5,-4,-3,-2,-1,0,1,2,3,4], "labels": false, "ticks": false, "domain": false, "title": null}},
"color": {"field": "s", "type": "nominal", "scale": {"domain": ["b","u","p","h"], "range": ["#1f2a6b","#8f4a48","#5f7f38","#e8a81c"]}},
"strokeWidth": {"condition": [{"test": "datum.s == 'b'", "value": 2.6}, {"test": "datum.s == 'h'", "value": 1.3}], "value": 0.9}
}
},
{
"width": 239, "height": 120,
"title": {"text": "(c) Guangdong", "orient": "bottom", "fontSize": 8.5, "fontWeight": "normal", "offset": 2},
"transform": [{"filter": "datum.p == 'G'"}],
"mark": {"type": "line", "strokeJoin": "round"},
"encoding": {
"x": {"field": "t", "type": "quantitative", "scale": {"domain": [2003.78, 2018.2], "nice": false, "zero": false}, "axis": {"values": [2004,2006,2008,2010,2012,2014,2016,2018], "labelExpr": "datum.value + 'm1'", "title": null}},
"y": {"field": "v", "type": "quantitative", "scale": {"domain": [-6.36, 4.36], "nice": false}, "axis": {"values": [-6,-5,-4,-3,-2,-1,0,1,2,3,4], "title": null}},
"color": {"field": "s", "type": "nominal", "scale": {"domain": ["b","u","p","h"], "range": ["#1f2a6b","#8f4a48","#5f7f38","#e8a81c"]}},
"strokeWidth": {"condition": [{"test": "datum.s == 'b'", "value": 2.6}, {"test": "datum.s == 'h'", "value": 1.3}], "value": 0.9}
}
},
{
"width": 239, "height": 120,
"title": {"text": "(d) Xinjiang", "orient": "bottom", "fontSize": 8.5, "fontWeight": "normal", "offset": 2},
"transform": [{"filter": "datum.p == 'X'"}],
"mark": {"type": "line", "strokeJoin": "round"},
"encoding": {
"x": {"field": "t", "type": "quantitative", "scale": {"domain": [2003.78, 2018.2], "nice": false, "zero": false}, "axis": {"values": [2004,2006,2008,2010,2012,2014,2016,2018], "labelExpr": "datum.value + 'm1'", "title": null}},
"y": {"field": "v", "type": "quantitative", "scale": {"domain": [-6.36, 4.36], "nice": false}, "axis": {"values": [-6,-5,-4,-3,-2,-1,0,1,2,3,4], "labels": false, "ticks": false, "domain": false, "title": null}},
"color": {"field": "s", "type": "nominal", "scale": {"domain": ["b","u","p","h"], "range": ["#1f2a6b","#8f4a48","#5f7f38","#e8a81c"]}},
"strokeWidth": {"condition": [{"test": "datum.s == 'b'", "value": 2.6}, {"test": "datum.s == 'h'", "value": 1.3}], "value": 0.9}
}
}
]
}
]
}
],
"config": {
"view": {"stroke": null},
"font": "Liberation Sans",
"axis": {"gridColor": "#e6e6e6", "gridWidth": 0.7, "domainColor": "#444", "tickColor": "#444", "domainWidth": 0.8, "tickWidth": 0.8, "tickSize": 3, "labelFont": "Liberation Sans", "labelFontSize": 5.5, "labelColor": "#222", "labelPadding": 2, "labelFlush": false},
"title": {"font": "Liberation Sans", "fontWeight": "normal", "color": "#000"}
}
}
